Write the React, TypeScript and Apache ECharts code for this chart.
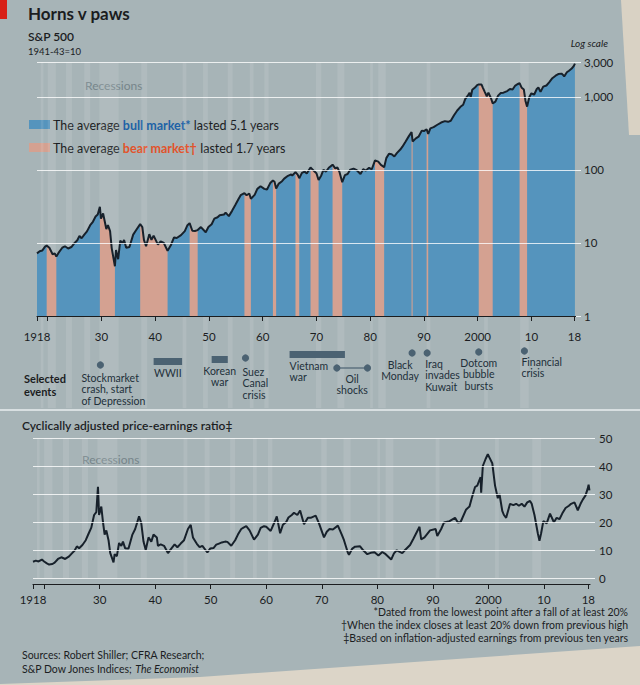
import React, { useEffect, useRef } from 'react';
import * as echarts from 'echarts';

const FONT = 'Lato, "Noto Sans", sans-serif';

// S&P 500 index, 1941-43=10 (year, level)
const spData: [number, number][] = [
  [1918.0, 7.2], [1918.5, 7.7], [1919.0, 7.9], [1919.5, 8.9], [1919.8, 9.2], [1920.3, 8.6], [1920.9, 7.0],
  [1921.3, 7.2], [1921.6, 6.5], [1922.0, 7.3], [1922.7, 8.6], [1923.2, 9.0], [1923.8, 8.4], [1924.4, 8.8],
  [1925.0, 10.0], [1925.5, 10.9], [1925.9, 12.5], [1926.3, 11.6], [1926.8, 13.0], [1927.3, 14.4], [1927.9, 17.5],
  [1928.4, 19.5], [1928.9, 23.0], [1929.3, 24.5], [1929.7, 31.3], [1929.9, 21.5], [1930.3, 25.3], [1930.9, 15.5],
  [1931.2, 17.5], [1931.6, 14.5], [1931.9, 8.5], [1932.5, 4.8], [1932.7, 8.0], [1933.1, 6.0], [1933.5, 10.8],
  [1933.9, 9.8], [1934.2, 11.0], [1934.6, 8.6], [1935.2, 8.8], [1935.9, 13.0], [1936.4, 14.8], [1937.2, 18.1],
  [1937.6, 16.5], [1937.9, 11.0], [1938.3, 9.0], [1938.9, 13.2], [1939.3, 11.0], [1939.7, 12.6], [1940.5, 9.5],
  [1941.0, 10.5], [1941.6, 10.0], [1942.3, 7.8], [1942.9, 9.3], [1943.5, 11.9], [1944.0, 11.7], [1944.8, 12.8],
  [1945.5, 14.5], [1946.0, 17.5], [1946.4, 18.7], [1946.9, 14.7], [1947.4, 14.6], [1947.9, 15.0], [1948.5, 16.5],
  [1949.4, 14.0], [1949.9, 16.5], [1950.5, 18.0], [1951.0, 21.5], [1951.6, 22.5], [1952.0, 24.0], [1952.8, 24.5],
  [1953.1, 26.0], [1953.7, 23.3], [1954.3, 27.5], [1954.9, 33.0], [1955.5, 40.0], [1955.9, 45.0], [1956.6, 48.0],
  [1957.0, 45.0], [1957.5, 47.5], [1957.8, 40.3], [1958.5, 45.5], [1959.0, 55.0], [1959.6, 59.7], [1960.3, 55.0],
  [1960.8, 54.0], [1961.4, 66.0], [1961.9, 71.7], [1962.2, 69.0], [1962.5, 55.6], [1963.0, 65.0], [1963.6, 70.0],
  [1964.0, 76.0], [1964.7, 83.0], [1965.3, 87.0], [1965.5, 84.0], [1966.1, 93.3], [1966.5, 86.0], [1966.8, 77.0],
  [1967.3, 91.0], [1967.8, 95.0], [1968.2, 89.0], [1968.9, 108.0], [1969.3, 101.0], [1969.7, 94.0], [1970.0, 90.0],
  [1970.4, 72.7], [1970.9, 84.0], [1971.3, 100.0], [1971.8, 95.0], [1972.3, 107.0], [1973.0, 118.0], [1973.5, 105.0],
  [1973.9, 108.0], [1974.3, 93.0], [1974.8, 68.0], [1975.3, 85.0], [1975.8, 88.0], [1976.3, 101.0], [1976.9, 104.0],
  [1977.5, 99.0], [1978.2, 88.0], [1978.7, 102.0], [1979.2, 98.0], [1979.8, 107.0], [1980.3, 102.0], [1980.9, 135.0],
  [1981.5, 130.0], [1982.0, 117.0], [1982.6, 109.0], [1983.0, 145.0], [1983.5, 166.0], [1984.0, 164.0], [1984.5, 153.0],
  [1985.0, 171.0], [1985.6, 190.0], [1986.0, 208.0], [1986.6, 245.0], [1987.2, 290.0], [1987.7, 329.0], [1987.9, 245.0],
  [1988.5, 270.0], [1989.0, 285.0], [1989.6, 345.0], [1990.0, 340.0], [1990.5, 360.0], [1990.8, 310.0], [1991.2, 370.0],
  [1991.8, 385.0], [1992.5, 415.0], [1993.2, 445.0], [1993.9, 465.0], [1994.5, 455.0], [1995.0, 470.0], [1995.6, 560.0],
  [1996.2, 650.0], [1996.8, 730.0], [1997.3, 780.0], [1997.7, 940.0], [1998.2, 1050.0], [1998.5, 1140.0], [1998.7, 990.0],
  [1999.0, 1250.0], [1999.5, 1340.0], [1999.9, 1450.0], [2000.2, 1480.0], [2000.7, 1480.0], [2001.0, 1320.0], [2001.3, 1180.0],
  [2001.7, 1020.0], [2002.0, 1140.0], [2002.5, 950.0], [2002.8, 815.0], [2003.3, 860.0], [2003.8, 1040.0], [2004.3, 1130.0],
  [2004.8, 1140.0], [2005.5, 1200.0], [2006.0, 1280.0], [2006.5, 1260.0], [2007.0, 1430.0], [2007.5, 1500.0], [2007.8, 1540.0],
  [2008.2, 1330.0], [2008.6, 1260.0], [2008.9, 880.0], [2009.2, 735.0], [2009.6, 990.0], [2010.0, 1120.0], [2010.5, 1070.0],
  [2011.0, 1280.0], [2011.3, 1340.0], [2011.7, 1170.0], [2012.2, 1380.0], [2012.8, 1430.0], [2013.3, 1580.0], [2013.9, 1800.0],
  [2014.5, 1950.0], [2015.0, 2050.0], [2015.6, 2080.0], [2015.9, 1990.0], [2016.1, 1900.0], [2016.6, 2170.0], [2017.0, 2280.0],
  [2017.5, 2440.0], [2017.9, 2660.0], [2018.1, 2850.0],
];

// Cyclically adjusted price-earnings ratio (year, CAPE)
const capeData: [number, number][] = [
  [1918.0, 5.8], [1918.5, 6.2], [1919.0, 5.9], [1919.6, 6.6], [1920.0, 5.9], [1920.5, 5.2], [1920.9, 4.8],
  [1921.5, 5.0], [1921.9, 5.5], [1922.5, 6.8], [1923.1, 7.4], [1923.8, 6.8], [1924.5, 7.7], [1925.0, 8.8],
  [1925.5, 9.8], [1925.9, 11.3], [1926.3, 10.6], [1926.9, 11.8], [1927.5, 13.5], [1928.0, 15.8], [1928.5, 18.0],
  [1929.0, 22.5], [1929.4, 23.5], [1929.7, 32.6], [1929.9, 22.5], [1930.3, 25.5], [1930.6, 20.0], [1930.9, 15.5],
  [1931.2, 17.0], [1931.6, 13.5], [1931.9, 9.0], [1932.5, 5.6], [1932.7, 8.5], [1933.1, 7.8], [1933.5, 12.5],
  [1933.9, 11.5], [1934.2, 13.0], [1934.6, 10.6], [1935.2, 10.5], [1935.9, 15.5], [1936.4, 17.5], [1937.1, 22.0],
  [1937.5, 19.5], [1937.9, 13.0], [1938.3, 10.0], [1938.8, 14.5], [1939.3, 13.0], [1939.7, 15.5], [1940.3, 14.5],
  [1940.5, 11.5], [1941.0, 12.0], [1941.6, 11.5], [1942.3, 8.9], [1942.9, 10.5], [1943.5, 12.0], [1944.0, 11.0],
  [1944.6, 12.3], [1945.2, 13.5], [1945.9, 17.5], [1946.4, 19.0], [1946.8, 14.5], [1947.5, 12.2], [1948.0, 11.0],
  [1948.5, 11.5], [1949.4, 9.1], [1949.9, 10.5], [1950.5, 10.7], [1951.0, 11.9], [1951.5, 12.3], [1952.0, 12.7],
  [1952.6, 13.0], [1953.0, 12.9], [1953.7, 11.5], [1954.4, 13.5], [1954.9, 15.5], [1955.5, 17.5], [1955.9, 18.0],
  [1956.4, 18.5], [1957.0, 17.0], [1957.8, 13.7], [1958.5, 15.5], [1959.0, 17.9], [1959.6, 18.5], [1960.0, 18.3],
  [1960.8, 16.8], [1961.5, 20.0], [1961.9, 22.0], [1962.5, 16.0], [1963.0, 19.0], [1963.6, 20.0], [1964.0, 21.6],
  [1964.6, 22.5], [1965.0, 23.3], [1965.6, 22.5], [1966.1, 24.1], [1966.8, 19.2], [1967.5, 21.5], [1968.0, 21.5],
  [1968.9, 22.3], [1969.5, 19.5], [1970.4, 14.5], [1970.9, 16.5], [1971.4, 17.5], [1972.0, 17.3], [1972.9, 18.7],
  [1973.6, 15.5], [1974.0, 13.5], [1974.7, 9.0], [1974.9, 8.3], [1975.5, 10.5], [1976.0, 11.2], [1976.9, 11.3],
  [1977.5, 9.8], [1978.2, 8.5], [1978.8, 9.0], [1979.5, 9.2], [1980.2, 8.0], [1980.9, 9.3], [1981.5, 8.5],
  [1982.5, 6.6], [1983.0, 8.8], [1983.5, 9.9], [1984.5, 8.9], [1985.0, 10.0], [1985.9, 11.8], [1986.5, 14.0],
  [1987.6, 18.3], [1987.9, 13.8], [1988.5, 14.5], [1989.5, 17.0], [1990.5, 17.5], [1990.8, 15.0], [1991.5, 17.5],
  [1992.0, 19.8], [1993.0, 20.3], [1994.0, 21.5], [1994.5, 19.8], [1995.0, 20.0], [1996.0, 24.5], [1996.6, 25.5],
  [1997.0, 28.5], [1997.6, 32.5], [1998.0, 33.0], [1998.6, 36.0], [1998.7, 30.5], [1999.0, 40.0], [1999.5, 42.5],
  [1999.9, 44.2], [2000.2, 43.0], [2000.7, 41.0], [2001.2, 33.0], [2001.7, 28.5], [2002.0, 30.0], [2002.5, 24.0],
  [2002.8, 22.5], [2003.2, 21.5], [2003.9, 26.5], [2004.5, 26.0], [2005.0, 26.5], [2005.5, 25.8], [2006.0, 26.5],
  [2006.5, 25.5], [2007.0, 27.0], [2007.5, 27.5], [2007.8, 26.5], [2008.3, 22.5], [2008.9, 16.0], [2009.2, 13.3],
  [2009.5, 16.0], [2009.9, 20.3], [2010.5, 19.5], [2011.1, 23.0], [2011.8, 19.9], [2012.3, 21.5], [2012.8, 21.0],
  [2013.3, 23.0], [2013.9, 25.0], [2014.5, 25.8], [2014.9, 26.5], [2015.5, 27.0], [2016.1, 24.2], [2016.6, 26.5],
  [2017.0, 28.0], [2017.5, 29.5], [2017.9, 32.0], [2018.05, 33.3], [2018.2, 31.3],
];

// Bear markets (start, end)
const bearMarkets: [number, number][] = [
  [1919.8, 1921.6], [1929.7, 1932.5], [1937.2, 1942.3], [1946.4, 1947.9], [1956.6, 1957.8], [1961.9, 1962.5],
  [1966.1, 1966.8], [1968.9, 1970.4], [1973.0, 1974.8], [1980.9, 1982.6], [1987.7, 1987.9], [1990.5, 1990.8],
  [2000.2, 2002.8], [2007.8, 2009.2],
];

// Recessions (start, end)
const recessions: [number, number][] = [
  [1918.7, 1919.2], [1920.0, 1921.5], [1923.4, 1924.5], [1926.8, 1927.9], [1929.6, 1933.2], [1937.4, 1938.5],
  [1945.1, 1945.8], [1948.9, 1949.8], [1953.5, 1954.4], [1957.6, 1958.3], [1960.3, 1961.1], [1969.9, 1970.9],
  [1973.9, 1975.2], [1980.0, 1980.5], [1981.5, 1982.9], [1990.5, 1991.2], [2001.2, 2001.9], [2007.9, 2009.5],
];

const xTickValues = [1918, 1920, 1930, 1940, 1950, 1960, 1970, 1980, 1990, 2000, 2010, 2018];
const xLabelValues = [1918, 1930, 1940, 1950, 1960, 1970, 1980, 1990, 2000, 2010, 2018];
const spAxisValues = [1, 10, 100, 1000, 3000];
const capeAxisValues = [0, 10, 20, 30, 40, 50];

const eventNames = [
  'Stockmarket crash, start of Depression', 'WWII', 'Korean war', 'Suez Canal crisis', 'Vietnam war',
  'Oil shocks', 'Black Monday', 'Iraq invades Kuwait', 'Dotcom bubble bursts', 'Financial crisis',
];
const eventStart = [1929.8, 1939.7, 1950.5, 1956.8, 1965.0, 1973.8, 1987.8, 1990.6, 2000.2, 2008.7];
const eventEnd: (number | null)[] = [null, 1945.0, 1953.5, null, 1975.3, 1979.5, null, null, null, null];

const BG = '#a7b4b7';
const BLUE = '#5594bd';
const PINK = '#d4a191';
const LINE = '#17212b';
const INK = '#1b1d1f';
const GRID = 'rgba(255,255,255,0.78)';
const REC = 'rgba(255,255,255,0.10)';
const EVT = '#4b6272';

const fmtYear = (v: number) => (v === 1918 || v === 2000 ? String(v) : String(v % 100).padStart(2, '0'));
const fmtSp = (v: number) => (v >= 1000 ? v.toLocaleString('en-US') : String(v));

// event label layout (line breaks, offsets)
const eventLayout = [
  { mark: 'dot', my: 365, lines: ['Stockmarket', 'crash, start', 'of Depression'], align: 'left', dx: -19, ty: 372 },
  { mark: 'bar', my: 358, lines: ['WWII'], align: 'center', dx: 0, ty: 367 },
  { mark: 'bar', my: 356, lines: ['Korean', 'war'], align: 'center', dx: 0, ty: 365 },
  { mark: 'dot', my: 358, lines: ['Suez', 'Canal', 'crisis'], align: 'left', dx: -3, ty: 366 },
  { mark: 'bar', my: 351, lines: ['Vietnam', 'war'], align: 'left', dx: 0, ty: 360 },
  { mark: 'pair', my: 368, lines: ['Oil', 'shocks'], align: 'center', dx: 0, ty: 373 },
  { mark: 'dot', my: 353, lines: ['Black', 'Monday'], align: 'center', dx: -12, ty: 359 },
  { mark: 'dot', my: 353, lines: ['Iraq', 'invades', 'Kuwait'], align: 'left', dx: -2, ty: 358 },
  { mark: 'dot', my: 352, lines: ['Dotcom', 'bubble', 'bursts'], align: 'center', dx: 0, ty: 357 },
  { mark: 'dot', my: 351, lines: ['Financial', 'crisis'], align: 'left', dx: -3, ty: 356 },
];

export default function App() {
  const ref = useRef<HTMLDivElement>(null);
  useEffect(() => {
    if (!ref.current) return;
    const chart = echarts.init(ref.current, undefined, { renderer: 'svg' });

    const inBear = (y: number) => bearMarkets.some(([s, e]) => y >= s - 1e-6 && y <= e + 1e-6);
    const pinkData = spData.map(([y, v]) => (inBear(y) ? [y, v] : [y, null]));

    const xAxisCommon = (gridIndex: number, offset: number) => ({
      type: 'value', gridIndex, min: 1918, max: 2018.3, offset,
      axisLine: { show: true, onZero: false, lineStyle: { color: INK, width: 1.2 } },
      axisTick: { show: true, customValues: xTickValues, length: 5, lineStyle: { color: INK, width: 1 } },
      axisLabel: { customValues: xLabelValues, formatter: fmtYear, color: INK, fontSize: 11.5, fontFamily: FONT, margin: gridIndex === 0 ? 14 : 9 },
      splitLine: { show: false },
    });

    const option: any = {
      animation: false,
      backgroundColor: BG,
      textStyle: { fontFamily: FONT },
      grid: [
        { left: 37, right: 64, top: 62, height: 254, outerBoundsMode: 'none' },
        { left: 33, right: 50, top: 438, height: 140, outerBoundsMode: 'none' },
      ],
      xAxis: [xAxisCommon(0, 0), xAxisCommon(1, 6)],
      yAxis: [
        {
          type: 'log', logBase: 10, gridIndex: 0, min: 1, max: 3000, position: 'right',
          axisLine: { show: false },
          axisTick: { show: true, customValues: spAxisValues, length: 5, lineStyle: { color: '#eef2f3' } },
          axisLabel: { customValues: spAxisValues, formatter: fmtSp, color: INK, fontSize: 11.5, fontFamily: FONT, margin: 8 },
          splitLine: { show: false },
        },
        {
          type: 'value', gridIndex: 1, min: 0, max: 50, interval: 10, position: 'right',
          axisLine: { show: false },
          axisTick: { show: true, length: 5, lineStyle: { color: '#eef2f3' } },
          axisLabel: { color: INK, fontSize: 11.5, fontFamily: FONT, margin: 9 },
          splitLine: { show: false },
        },
      ],
      series: [
        {
          name: 'bg-top', type: 'line', xAxisIndex: 0, yAxisIndex: 0, z: 1, silent: true,
          data: [[1918, 1]], symbol: 'none', lineStyle: { opacity: 0 },
          markArea: { silent: true, itemStyle: { color: REC }, data: recessions.map(([s, e]) => [{ xAxis: s }, { xAxis: e }]) },
          markLine: {
            silent: true, symbol: ['none', 'none'], label: { show: false },
            lineStyle: { color: GRID, width: 1.2, type: 'solid' },
            data: spAxisValues.filter((v) => v > 1).map((v) => ({ yAxis: v })),
          },
        },
        {
          name: 'bull', type: 'line', xAxisIndex: 0, yAxisIndex: 0, z: 2, silent: true,
          data: spData, symbol: 'none', lineStyle: { width: 0 },
          areaStyle: { color: BLUE, opacity: 1, origin: 'start' },
        },
        {
          name: 'bear', type: 'line', xAxisIndex: 0, yAxisIndex: 0, z: 3, silent: true,
          data: pinkData, symbol: 'none', connectNulls: false, lineStyle: { width: 0 },
          areaStyle: { color: PINK, opacity: 1, origin: 'start' },
        },
        {
          name: 'S&P 500', type: 'line', xAxisIndex: 0, yAxisIndex: 0, z: 4, silent: true,
          data: spData, symbol: 'none', lineStyle: { color: LINE, width: 2 },
        },
        {
          name: 'bg-bottom', type: 'line', xAxisIndex: 1, yAxisIndex: 1, z: 1, silent: true,
          data: [[1918, 0]], symbol: 'none', lineStyle: { opacity: 0 },
          markArea: { silent: true, itemStyle: { color: REC }, data: recessions.map(([s, e]) => [{ xAxis: s }, { xAxis: e }]) },
          markLine: {
            silent: true, symbol: ['none', 'none'], label: { show: false },
            lineStyle: { color: GRID, width: 1.2, type: 'solid' },
            data: capeAxisValues.map((v) => ({ yAxis: v })),
          },
        },
        {
          name: 'CAPE', type: 'line', xAxisIndex: 1, yAxisIndex: 1, z: 4, silent: true,
          data: capeData, symbol: 'none', lineStyle: { color: LINE, width: 2 },
        },
      ],
    };
    chart.setOption(option);

    const X = (yr: number) => chart.convertToPixel({ xAxisIndex: 0 }, yr) as number;
    const txt = (x: number, y: number, text: string, s: any = {}) => ({
      type: 'text', x, y, silent: true,
      style: { text, fill: INK, fontFamily: FONT, fontSize: 11, verticalAlign: 'middle', align: 'left', ...s },
    });

    const g: any[] = [];
    // paper edges
    g.push({ type: 'polygon', silent: true, shape: { points: [[621, 0], [640, 0], [640, 135], [629, 135]] }, style: { fill: '#d9d2c4' } });
    g.push({ type: 'polygon', silent: true, shape: { points: [[0, 685], [0, 684], [200, 677], [400, 663], [640, 646], [640, 685]] }, style: { fill: '#dcd5c8' } });

    // recession stripes through the events strip
    recessions.forEach(([s, e]) => {
      const a = X(s), b = X(e);
      g.push({ type: 'rect', silent: true, shape: { x: a, y: 317, width: Math.max(1, b - a), height: 91 }, style: { fill: REC } });
    });

    // header
    g.push({ type: 'rect', silent: true, shape: { x: 0, y: 0, width: 7, height: 19 }, style: { fill: '#d81f16' } });
    g.push(txt(28, 13, 'Horns v paws', { fontSize: 17, fontWeight: 'bold' }));
    g.push(txt(28, 36, 'S&P 500', { fontSize: 12, fontWeight: 600 }));
    g.push(txt(28, 51, '1941-43=10', { fontSize: 9.5 }));
    g.push(txt(608, 43, 'Log scale', { fontSize: 10, fontStyle: 'italic', align: 'right' }));
    g.push(txt(85, 85, 'Recessions', { fontSize: 12, fill: '#76858a' }));

    // legend
    g.push({ type: 'rect', silent: true, shape: { x: 29, y: 120, width: 21, height: 9 }, style: { fill: BLUE } });
    g.push({ type: 'rect', silent: true, shape: { x: 29, y: 143, width: 21, height: 9 }, style: { fill: PINK } });
    const rich = {
      a: { fontSize: 12.5, fill: INK, fontFamily: FONT },
      b: { fontSize: 12.5, fill: '#1d62a6', fontFamily: FONT, fontWeight: 'bold' },
      r: { fontSize: 12.5, fill: '#e2532b', fontFamily: FONT, fontWeight: 'bold' },
    };
    g.push(txt(53, 125, '{a|The average }{b|bull market*}{a| lasted 5.1 years}', { rich }));
    g.push(txt(53, 148, '{a|The average }{r|bear market†}{a| lasted 1.7 years}', { rich }));

    // selected events
    g.push(txt(24, 385, 'Selected\nevents', { fontSize: 11, fontWeight: 'bold', lineHeight: 13 }));
    eventNames.forEach((_, i) => {
      const L = eventLayout[i];
      const a = X(eventStart[i]);
      const endYr = eventEnd[i];
      const b = endYr != null ? X(endYr) : a;
      let anchor = a;
      if (L.mark === 'dot') {
        g.push({ type: 'circle', silent: true, shape: { cx: a, cy: L.my, r: 3.6 }, style: { fill: EVT } });
      } else if (L.mark === 'bar') {
        g.push({ type: 'rect', silent: true, shape: { x: a, y: L.my, width: b - a, height: 7 }, style: { fill: EVT } });
        if (L.align === 'center') anchor = (a + b) / 2;
      } else {
        g.push({ type: 'line', silent: true, shape: { x1: a, y1: L.my, x2: b, y2: L.my }, style: { stroke: EVT, lineWidth: 1.2 } });
        g.push({ type: 'circle', silent: true, shape: { cx: a, cy: L.my, r: 3.6 }, style: { fill: EVT } });
        g.push({ type: 'circle', silent: true, shape: { cx: b, cy: L.my, r: 3.6 }, style: { fill: EVT } });
        anchor = (a + b) / 2;
      }
      g.push(txt(anchor + L.dx, L.ty, L.lines.join('\n'), {
        fontSize: 10.5, lineHeight: 11.5, align: L.align, verticalAlign: 'top', fill: '#22303a',
      }));
    });

    // separator
    g.push({ type: 'line', silent: true, shape: { x1: 0, y1: 410, x2: 640, y2: 410 }, style: { stroke: '#e9eeef', lineWidth: 1.5 } });

    // lower panel
    g.push(txt(22, 425, 'Cyclically adjusted price-earnings ratio‡', { fontSize: 12, fontWeight: 600 }));
    g.push(txt(82, 459, 'Recessions', { fontSize: 12, fill: '#76858a' }));

    // footnotes & sources
    g.push(txt(628, 612, '*Dated from the lowest point after a fall of at least 20%', { fontSize: 10.5, align: 'right' }));
    g.push(txt(628, 625, '†When the index closes at least 20% down from previous high', { fontSize: 10.5, align: 'right' }));
    g.push(txt(628, 638, '‡Based on inflation-adjusted earnings from previous ten years', { fontSize: 10.5, align: 'right' }));
    g.push(txt(22, 655, 'Sources: Robert Shiller; CFRA Research;', { fontSize: 10.5 }));
    g.push(txt(22, 669, '{a|S&P Dow Jones Indices; }{i|The Economist}', {
      rich: { a: { fontSize: 10.5, fill: INK, fontFamily: FONT }, i: { fontSize: 10.5, fill: INK, fontFamily: FONT, fontStyle: 'italic' } },
    }));

    chart.setOption({ graphic: g });
    return () => chart.dispose();
  }, []);

  return <div ref={ref} style={{ position: 'fixed', left: 0, top: 0, width: 640, height: 685 }} />;
}
